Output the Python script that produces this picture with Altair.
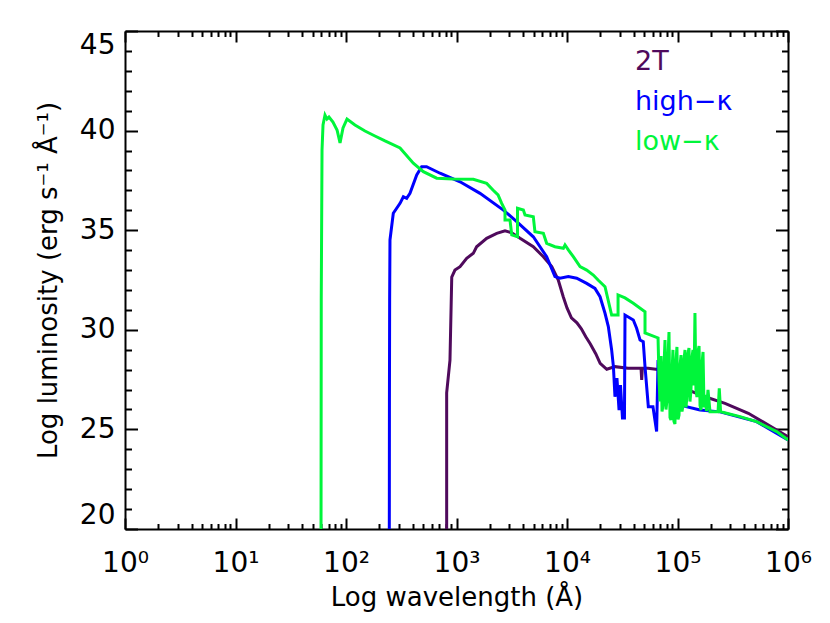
import altair as alt
import pandas as pd

# ---- data (log10 wavelength [Å], log luminosity) ----
t2_logwl = [2.911, 2.911, 2.941, 2.957, 2.986, 3.032, 3.092, 3.152, 3.182, 3.273, 3.364,
            3.439, 3.500, 3.575, 3.695, 3.786, 3.862, 3.921, 3.966, 4.000, 4.040, 4.090,
            4.130, 4.170, 4.210, 4.260, 4.300, 4.360, 4.434, 4.552, 4.670, 4.676, 4.682,
            4.733, 4.857, 5.005, 5.095, 5.249, 5.430, 5.641, 6.0]
t2_logL = [20.0, 26.83, 28.48, 32.65, 33.0, 33.17, 33.59, 33.84, 34.17, 34.59, 34.84,
           34.97, 34.87, 34.59, 34.17, 33.67, 33.17, 32.50, 31.66, 31.10, 30.60, 30.35,
           30.05, 29.65, 29.30, 28.80, 28.32, 28.02, 28.15, 28.07, 28.07, 27.48, 28.07,
           28.07, 27.98, 27.33, 26.98, 26.64, 26.31, 25.81, 24.63]

hk_logwl = [2.392, 2.393, 2.395, 2.398, 2.428, 2.489, 2.519, 2.549, 2.579, 2.640, 2.685,
            2.729, 2.851, 3.032, 3.213, 3.424, 3.545, 3.695, 3.816, 3.891, 3.937, 4.012,
            4.088, 4.178, 4.253, 4.299, 4.344, 4.374, 4.404, 4.420, 4.434, 4.452, 4.471,
            4.484, 4.502, 4.520, 4.525, 4.600, 4.630, 4.661, 4.690, 4.706, 4.736, 4.778,
            4.811, 4.824, 4.887, 5.023, 5.204, 5.385, 5.716, 6.0]
hk_logL = [20.0, 26.48, 31.5, 34.51, 35.85, 36.35, 36.68, 36.60, 36.85, 37.77, 38.19,
           38.19, 37.86, 37.43, 36.85, 36.01, 35.43, 34.67, 33.67, 32.67, 32.59, 32.67,
           32.59, 32.33, 32.08, 31.66, 30.83, 30.16, 28.99, 28.15, 26.64, 27.58, 25.97,
           27.23, 25.57, 25.57, 30.74, 30.49, 30.08, 29.49, 29.40, 28.15, 26.14, 26.14,
           24.89, 28.48, 26.48, 26.22, 25.97, 25.88, 25.39, 24.47]

lk_logwl = [1.774, 1.776, 1.783, 1.792, 1.810, 1.828, 1.846, 1.882, 1.919, 1.946, 1.973,
            2.009, 2.081, 2.172, 2.262, 2.353, 2.489, 2.609, 2.700, 2.821, 2.968, 3.152,
            3.273, 3.330, 3.376, 3.409, 3.439, 3.439, 3.484, 3.500, 3.552, 3.552, 3.605,
            3.620, 3.695, 3.710, 3.786, 3.816, 3.891, 3.967, 3.982, 4.012, 4.057, 4.118,
            4.178, 4.238, 4.281, 4.344, 4.404, 4.462, 4.462, 4.525, 4.600, 4.706, 4.706,
            4.824, 4.833, 4.842, 4.851, 4.860, 4.869, 4.878, 4.887, 4.896, 4.905, 4.914,
            4.923, 4.932, 4.941, 4.950, 4.959, 4.968, 4.977, 4.986, 4.995, 5.005, 5.014,
            5.023, 5.032, 5.041, 5.050, 5.059, 5.068, 5.077, 5.086, 5.095, 5.104, 5.113,
            5.122, 5.131, 5.140, 5.149, 5.158, 5.167, 5.176, 5.185, 5.195, 5.204, 5.213,
            5.222, 5.231, 5.240, 5.249, 5.262, 5.276, 5.294, 5.367, 5.378, 5.390, 5.444,
            5.566, 5.716, 5.897, 6.0]
lk_logL = [20.0, 31.5, 39.03, 40.28, 40.78, 40.58, 40.68, 40.43, 40.03, 39.38, 40.13,
           40.58, 40.28, 39.98, 39.73, 39.48, 39.13, 38.36, 37.94, 37.61, 37.57, 37.56,
           37.35, 37.02, 36.77, 36.35, 36.01, 35.51, 35.51, 34.76, 34.67, 36.10, 36.01,
           35.76, 35.68, 34.92, 34.84, 34.34, 34.17, 34.09, 34.26, 34.01, 33.67, 33.17,
           33.00, 32.75, 32.50, 32.16, 30.74, 30.74, 31.75, 31.60, 31.33, 30.91, 29.84,
           29.59, 27.48, 26.40, 28.68, 25.90, 26.22, 28.20, 29.49, 26.00, 26.48, 28.60,
           29.89, 25.60, 25.47, 27.80, 28.99, 25.40, 25.27, 28.40, 29.14, 25.50, 25.72,
           28.20, 28.73, 25.90, 26.22, 28.50, 28.99, 26.10, 26.73, 28.80, 29.09, 26.40,
           26.98, 28.60, 28.99, 27.20, 30.84, 27.00, 26.63, 28.90, 29.19, 26.20, 25.97,
           28.30, 28.89, 26.10, 26.73, 25.92, 26.98, 25.89, 25.89, 27.06, 25.89, 25.81,
           25.64, 25.39, 24.89, 24.47]

series_names = ["2T", "high−κ", "low−κ"]
series_colors = ["#4f0a5c", "#0000ff", "#00f53a"]

x_major = [1, 10, 100, 1000, 10000, 100000, 1000000]
x_labels = ["10⁰", "10¹", "10²", "10³", "10⁴", "10⁵", "10⁶"]
y_major = [20, 25, 30, 35, 40, 45]

W, H = 663, 498
FONT = "DejaVu Sans"


def frame(name, lx, ly):
    return pd.DataFrame({"series": name, "wl": [10 ** v for v in lx],
                         "lum": ly, "idx": list(range(len(lx)))})


x_all = sorted({m * 10 ** e for e in range(6) for m in range(1, 10)} | {10 ** 6})
y_all = list(range(20, 46))

label_expr = " : ".join(f"datum.value == {v} ? '{t}'" for v, t in zip(x_major, x_labels)) + " : ''"
x_major_test = "abs(log(datum.value)/LN10 - round(log(datum.value)/LN10)) < 0.001"
y_major_test = "datum.value % 5 == 0"

xs = alt.Scale(type="log", domain=[1, 1000000], nice=False)
ys = alt.Scale(domain=[20, 45], nice=False, zero=False)
cs = alt.Scale(domain=series_names, range=series_colors)

common = dict(grid=False, domainColor="black", tickColor="black", domainWidth=2,
              tickWidth=2, labelColor="black", titleColor="black")

# axis set 1: labels, titles, bottom/left frame lines
xa1 = alt.Axis(orient="bottom", values=x_major, labelExpr=label_expr, ticks=False,
               tickSize=0, labelFontSize=28, labelPadding=20, labelFont=FONT,
               labelFlush=False, labelOverlap=False,
               title="Log wavelength (Å)", titleFontSize=26, titleFont=FONT,
               titleFontWeight="normal", titlePadding=7, **common)
ya1 = alt.Axis(orient="left", values=y_major, ticks=False, tickSize=0, labelFontSize=28,
               labelPadding=10, labelFlush=True, labelFont=FONT,
               title="Log luminosity (erg s⁻¹ Å⁻¹)", titleFontSize=26, titleFont=FONT,
               titleFontWeight="normal", titlePadding=18, **common)
# axis set 2: inward ticks on bottom and left edges
xa2 = alt.Axis(orient="top", offset=-H, values=x_all, labels=False, domain=False, title=None,
               tickSize={"condition": {"test": x_major_test, "value": 11}, "value": 5.5}, **common)
ya2 = alt.Axis(orient="right", offset=-W, values=y_all, labels=False, domain=False, title=None,
               tickSize={"condition": {"test": y_major_test, "value": 12.5}, "value": 6.5}, **common)
# axis set 3: top/right frame lines with inward ticks
xa3 = alt.Axis(orient="bottom", offset=-H, values=x_all, labels=False, title=None,
               tickSize={"condition": {"test": x_major_test, "value": 11}, "value": 5.5}, **common)
ya3 = alt.Axis(orient="left", offset=-W, values=y_all, labels=False, title=None,
               tickSize={"condition": {"test": y_major_test, "value": 12.5}, "value": 6.5}, **common)

legend = alt.Legend(orient="none", legendX=483, legendY=17, title=None, symbolSize=0,
                    symbolOpacity=0, symbolStrokeWidth=0, labelOffset=0, labelFontSize=27,
                    labelFont=FONT, rowPadding=12,
                    labelColor={"expr": "indexof(datum.label, 'high') >= 0 ? '#0000ff' : "
                                        "(indexof(datum.label, 'low') >= 0 ? '#00f53a' : '#4f0a5c')"})


def layer(df, xaxis, yaxis, leg):
    return alt.Chart(df).mark_line(strokeWidth=3, clip=True).encode(
        x=alt.X("wl:Q", scale=xs, axis=xaxis),
        y=alt.Y("lum:Q", scale=ys, axis=yaxis),
        color=alt.Color("series:N", scale=cs, legend=leg),
        order="idx:Q",
    )


p = layer(frame(series_names[0], t2_logwl, t2_logL), xa1, ya1, legend)
b = layer(frame(series_names[1], hk_logwl, hk_logL), xa2, ya2, None)
g = layer(frame(series_names[2], lk_logwl, lk_logL), xa3, ya3, None)

chart = (
    alt.layer(p, b, g)
    .resolve_scale(x="independent", y="independent")
    .resolve_axis(x="independent", y="independent")
    .properties(width=W, height=H,
                padding={"left": 117, "top": 23, "right": 30, "bottom": 86},
                autosize=alt.AutoSizeParams(type="none"))
    .configure_view(stroke=None)
    .configure(font=FONT, background="white")
)

chart.save("out.html", embed_options={"renderer": "svg", "actions": False})
